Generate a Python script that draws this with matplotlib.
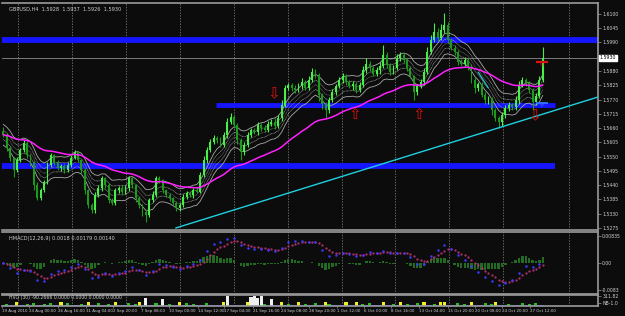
import numpy as np
import pandas as pd
import matplotlib
matplotlib.use('Agg')
import matplotlib.pyplot as plt

# GBPUSD, one candle = 8 hours (two H4 bars)
first_open = 1.5650
close = [1.5634, 1.5583, 1.5545, 1.5499, 1.5537, 1.5576, 1.5603, 1.5556, 1.5529, 1.5441,
         1.5391, 1.5421, 1.5452, 1.5518, 1.5556, 1.5529, 1.5506, 1.5514, 1.5499, 1.5518,
         1.5545, 1.5568, 1.5537, 1.5499, 1.5421, 1.5364, 1.5344, 1.5402, 1.5429, 1.5468,
         1.5441, 1.5383, 1.5371, 1.5421, 1.5429, 1.5414, 1.5429, 1.5468, 1.5441, 1.5391,
         1.5364, 1.5337, 1.5325, 1.5383, 1.5402, 1.5468, 1.5460, 1.5421, 1.5402, 1.5391,
         1.5371, 1.5352, 1.5364, 1.5395, 1.5410, 1.5402, 1.5421, 1.5414, 1.5479, 1.5537,
         1.5576, 1.5607, 1.5622, 1.5614, 1.5595, 1.5633, 1.5684, 1.5703, 1.5672, 1.5614,
         1.5568, 1.5595, 1.5633, 1.5653, 1.5645, 1.5672, 1.5660, 1.5653, 1.5676, 1.5684,
         1.5668, 1.5699, 1.5749, 1.5815, 1.5826, 1.5815, 1.5807, 1.5822, 1.5838, 1.5815,
         1.5846, 1.5876, 1.5865, 1.5788, 1.5753, 1.5730, 1.5768, 1.5799, 1.5822, 1.5846,
         1.5861, 1.5838, 1.5822, 1.5830, 1.5807, 1.5826, 1.5884, 1.5907, 1.5892, 1.5869,
         1.5884, 1.5900, 1.5942, 1.5903, 1.5876, 1.5892, 1.5930, 1.5942, 1.5923, 1.5892,
         1.5861, 1.5799, 1.5822, 1.5838, 1.5876, 1.5954, 1.6000, 1.6031, 1.6007, 1.6038,
         1.6058, 1.6000, 1.5969, 1.5954, 1.5915, 1.5907, 1.5923, 1.5900, 1.5846, 1.5815,
         1.5830, 1.5788, 1.5768, 1.5776, 1.5730, 1.5699, 1.5684, 1.5711, 1.5738, 1.5749,
         1.5741, 1.5768, 1.5826, 1.5846, 1.5834, 1.5807, 1.5761, 1.5784, 1.5846, 1.5930]

# wick lengths in pips above / below the body
up_wick = [15, 6, 8, 5, 12, 9, 11, 7, 5, 4, 10, 8, 6, 12, 9, 5, 7, 6, 8, 10,
           12, 9, 5, 4, 6, 3, 8, 10, 12, 7, 5, 6, 9, 8, 7, 10, 11, 6, 5, 4,
           7, 5, 8, 9, 14, 6, 8, 5, 4, 6, 5, 7, 9, 10, 8, 6, 9, 12, 10, 14,
           11, 9, 12, 8, 10, 13, 15, 15, 9, 7, 6, 10, 12, 8, 9, 11, 7, 10, 12, 9,
           14, 11, 18, 12, 9, 8, 11, 10, 13, 9, 15, 16, 10, 8, 6, 9, 12, 10, 8, 11,
           12, 9, 7, 10, 8, 13, 15, 23, 11, 8, 10, 14, 38, 10, 8, 12, 15, 13, 9, 7,
           6, 5, 9, 11, 14, 18, 20, 34, 15, 22, 46, 12, 9, 10, 8, 11, 9, 7, 6, 9,
           8, 7, 10, 6, 5, 8, 7, 9, 10, 12, 9, 14, 15, 10, 8, 7, 9, 12, 15, 43]
dn_wick = [8, 10, 12, 27, 9, 7, 10, 12, 14, 18, 8, 10, 9, 7, 8, 11, 9, 10, 12, 7,
           8, 6, 9, 14, 16, 12, 11, 10, 8, 12, 14, 10, 8, 9, 11, 7, 8, 10, 12, 15,
           14, 16, 27, 9, 8, 7, 10, 12, 9, 11, 8, 10, 12, 7, 9, 8, 10, 6, 5, 9,
           10, 8, 7, 11, 9, 8, 10, 9, 12, 15, 31, 10, 8, 7, 9, 12, 10, 8, 7, 9,
           11, 9, 12, 8, 10, 14, 12, 9, 11, 10, 8, 9, 12, 25, 20, 31, 12, 9, 10, 8,
           11, 12, 9, 14, 10, 8, 9, 10, 12, 9, 8, 14, 10, 12, 11, 9, 8, 10, 12, 14,
           9, 31, 10, 8, 12, 9, 8, 10, 11, 9, 12, 14, 10, 12, 11, 9, 8, 15, 14, 18,
           12, 10, 14, 16, 20, 12, 24, 15, 12, 14, 10, 12, 14, 9, 12, 10, 31, 12, 10, 8]

# HVO volume level per candle (0-9)
vol_level = ("1211411213" "1121311413" "1112141131" "1214111312" "4171131612"
             "1141312111" "3111149111" "1148979216" "1141211412" "1131142111"
             "1411412131" "1141121412" "1131411214" "4111312141" "1131241112"
             "1113121311")

price_ticks = [1.6100, 1.6045, 1.5990, 1.5880, 1.5825, 1.5770, 1.5715, 1.5660,
               1.5605, 1.5550, 1.5495, 1.5440, 1.5385, 1.5330, 1.5275]
bid = 1.5930
levels = [1.6000, 1.5747, 1.5514]

time_labels = ["19 Aug 2010", "24 Aug 00:00", "26 Aug 16:00", "31 Aug 04:00", "2 Sep 20:00",
               "7 Sep 08:00", "10 Sep 00:00", "14 Sep 12:00", "17 Sep 04:00", "21 Sep 16:00",
               "24 Sep 08:00", "28 Sep 20:00", "1 Oct 12:00", "6 Oct 00:00", "8 Oct 16:00",
               "13 Oct 04:00", "15 Oct 20:00", "20 Oct 08:00", "24 Oct 20:00", "27 Oct 12:00"]
label_px = [1, 28, 57, 85, 112, 140, 168, 197, 223, 252, 280, 308, 336, 363, 391, 419, 448, 475, 502, 530]
grid_px = [17, 71, 125, 179, 233, 287, 341, 395, 449, 503, 569]


def px2i(p):
    return (p - 2) / 3.4


c = np.array(close)
o = np.concatenate([[first_open], c[:-1]])
h = np.maximum(o, c) + np.array(up_wick) / 10000
l = np.minimum(o, c) - np.array(dn_wick) / 10000
x = np.arange(len(c))
s = pd.Series(c)

ma_slow = s.ewm(span=40, adjust=False).mean()
ma_fast = s.ewm(span=9, adjust=False).mean()
macd = s.ewm(span=8, adjust=False).mean() - s.ewm(span=20, adjust=False).mean()
signal = macd.ewm(span=6, adjust=False).mean()
hist = macd - signal
vol = np.array([int(v) for v in vol_level])

bg = '#0b0c0b'
edge = '#9a9a9a'
txt = '#d0d0d0'

fig = plt.figure(figsize=(6.25, 3.16), dpi=100, facecolor=bg)
W, H = 625, 316
ax = fig.add_axes([2 / W, 1 - 230 / H, 596 / W, 227 / H])
axm = fig.add_axes([2 / W, 1 - 294 / H, 596 / W, 62 / H])
axv = fig.add_axes([2 / W, 1 - 306 / H, 596 / W, 11 / H])

for a in (ax, axm, axv):
    a.set_facecolor(bg)
    a.set_xlim(-0.4, px2i(598))
    for sp in a.spines.values():
        sp.set_color(edge)
        sp.set_linewidth(1.2)
    a.spines['left'].set_visible(False)
    a.yaxis.tick_right()
    a.tick_params(axis='y', colors=edge, labelcolor=txt, labelsize=3.3, length=2, width=0.5, pad=1)
    a.tick_params(axis='x', bottom=False, labelbottom=False)
    for g in grid_px:
        a.axvline(px2i(g), color='#8a8a8a', lw=0.5, ls=(0, (2, 2)), zorder=0)

# main chart
ax.set_ylim(1.5267, 1.6142)
ax.set_yticks(price_ticks)
ax.set_yticklabels(['%.4f' % t for t in price_ticks])

ax.hlines(levels[0], -1, px2i(598), color='#1515ff', lw=4.2, zorder=1)
ax.hlines(levels[1], px2i(215), px2i(555), color='#1515ff', lw=3.5, zorder=1)
ax.hlines(levels[2], -1, px2i(555), color='#1515ff', lw=4.2, zorder=1)
ax.axhline(bid, color='#8c8c8c', lw=0.6, zorder=1)

ax.plot(x, ma_fast + 0.0040, color='#a8a8a8', lw=0.6, zorder=2)
ax.plot(x, ma_fast - 0.0040, color='#a8a8a8', lw=0.6, zorder=2)
ax.plot(x, ma_fast + 0.0018, color='#c8c8c8', lw=0.5, ls=(0, (1, 1)), zorder=2)
ax.plot(x, ma_fast - 0.0018, color='#c8c8c8', lw=0.5, ls=(0, (1, 1)), zorder=2)
ax.plot(x, ma_fast, color='#8a8a8a', lw=0.5, ls=(0, (1, 1)), zorder=2)

bull = c >= o
colors = np.where(bull, '#46f046', '#1c9a1c')
ax.vlines(x, l, h, colors=colors, lw=0.8, zorder=3)
body = np.maximum(np.abs(c - o), 0.0003)
ax.bar(x, body, bottom=np.minimum(o, c), width=0.55, color=colors, lw=0, zorder=3)

ax.plot(x, ma_slow, color='#ff20ff', lw=1.1, zorder=4)

# trend lines
ax.plot([px2i(175), px2i(605)], [1.5275, 1.5788], color='#20d0e0', lw=1.0, zorder=5, clip_on=True)
ax.plot([px2i(478), px2i(488)], [1.5875, 1.5815], color='#20d0e0', lw=0.8, zorder=5)

# trade arrows and order marks
for ax_px, ay, glyph in [(273, 1.5792, '\u21e9'), (354, 1.5712, '\u21e7'),
                         (418, 1.5712, '\u21e7'), (535, 1.5708, '\u21e9')]:
    ax.text(px2i(ax_px), ay, glyph, color='#e01010', fontsize=11, ha='center', va='center',
            zorder=6)
ax.hlines(1.5915, px2i(536), px2i(548), color='#e01010', lw=1.6, zorder=6)
ax.text(px2i(542), 1.5903, 'S/L', color='#e01010', fontsize=2.5, ha='center', va='center', zorder=6)
ax.hlines(1.5757, px2i(536), px2i(548), color='#3070ff', lw=1.4, zorder=6)
ax.text(px2i(542), 1.5745, 'T/P', color='#3070ff', fontsize=2.5, ha='center', va='center', zorder=6)

ax.text(0.012, 0.985, 'GBPUSD,H4  1.5928  1.5937  1.5926  1.5930', transform=ax.transAxes,
        color=txt, fontsize=3.6, va='top', ha='left')
ax.text(1.003, (bid - 1.5267) / (1.6142 - 1.5267), '%.4f' % bid, transform=ax.transAxes,
        color='black', fontsize=3.4, va='center', ha='left',
        bbox=dict(boxstyle='square,pad=0.15', fc='white', ec='white'), clip_on=False)

# MACD panel
lim = 0.0097
axm.set_ylim(-lim, lim)
axm.set_yticks([0.008346, 0.0, -0.008346])
axm.set_yticklabels(['0.00835', '0.00', '-0.0083'])
axm.bar(x, hist, width=0.7, color='#236b23', lw=0, zorder=2)
axm.plot(x, signal, color='#b0306a', lw=0, marker='.', ms=1.3, zorder=3)
axm.plot(x[::2], macd[::2], color='#3b3bff', lw=0, marker='.', ms=1.6, zorder=3)
axm.text(0.012, 0.93, 'HMACD(12,26,9) 0.0018 0.00179 0.00140', transform=axm.transAxes,
         color=txt, fontsize=3.6, va='top', ha='left')

# volume panel
axv.set_ylim(0, 10)
axv.set_yticks([9, 3])
axv.set_yticklabels(['311.82', 'NB-1.0'])
vcol = np.where(vol >= 6, '#f0f0f0', np.where(vol >= 4, '#f0f020', np.where(vol >= 2, '#20c020', '#2040ff')))
vh = np.where(vol <= 1, 1.2, vol)
axv.bar(x, vh, width=0.9, color=vcol, lw=0, zorder=2)
axv.text(0.012, 0.98, 'HVO (30) -90.2666 0.0000 0.0000 0.0000 0.0000', transform=axv.transAxes,
         color=txt, fontsize=3.3, va='top', ha='left')

axv.set_xticks([px2i(p) for p in label_px])
axv.set_xticklabels(time_labels)
axv.tick_params(axis='x', bottom=True, labelbottom=True, colors=edge, labelcolor=txt,
                labelsize=2.9, length=1.5, width=0.5, pad=1)
for t in axv.get_xticklabels():
    t.set_ha('left')

fig.savefig('out.png', dpi=100, facecolor=bg)
